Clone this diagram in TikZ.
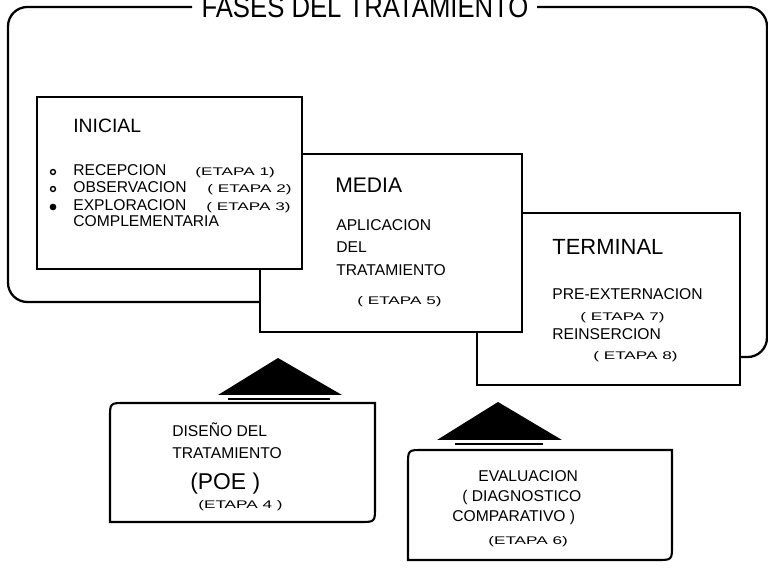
\documentclass[tikz,border=0pt]{standalone}
\usepackage{fontspec}
\setmainfont{Liberation Sans}
\newfontfamily\titlefont[FakeStretch=0.86]{Liberation Sans}
\newfontfamily\etapafont[FakeStretch=1.55]{Liberation Sans}
\tikzset{
  frameline/.style={line width=1.3pt, rounded corners=11pt},
  phasebox/.style={draw, fill=white, line width=1.2pt},
  sidebox/.style={draw, fill=white, line width=1.2pt},
  tipbar/.style={line width=1.1pt},
  titletxt/.style={anchor=base, inner sep=0pt, font=\titlefont\fontsize{17}{20}\selectfont},
  phasetit/.style={anchor=base west, inner sep=0pt, font=\fontsize{#1}{14}\selectfont},
  lbl/.style={anchor=base west, inner sep=0pt, font=\fontsize{8.9}{11}\selectfont},
  etapa/.style={anchor=base west, inner sep=0pt, font=\etapafont\fontsize{6.3}{7}\selectfont},
}

\begin{document}
\begin{tikzpicture}[x=0.02cm, y=-0.02cm]
\useasboundingbox (0,0) rectangle (768,570);

% --- Outer frame ---
\draw[frameline] (192,7) -- (8,7) -- (8,302) -- (262,302);
\draw[frameline] (537,7) -- (767,7) -- (767,357) -- (739,357);
\node[titletxt] (titulo) at (365,18) {FASES DEL TRATAMIENTO};

% --- Phase boxes (back to front) ---
\draw[phasebox] (477,213) rectangle (740,385);
\draw[phasebox] (260,154) rectangle (522,332);
\draw[phasebox] (37,97) rectangle (302,269);

% Inicial
\node[phasetit=11] (inicial) at (73,133) {INICIAL};
\draw[line width=0.8pt] (53,172) circle (1.4pt);
\draw[line width=0.8pt] (53,189) circle (1.4pt);
\fill (53,207) circle (1.9pt);
\node[lbl] (recepcion) at (73,176) {RECEPCION};
\node[lbl] (observacion) at (73,193) {OBSERVACION};
\node[lbl] (exploracion) at (73,211) {EXPLORACION};
\node[lbl] (complem) at (73,227) {COMPLEMENTARIA};
\node[etapa] (etapa1) at (195,176) {(ETAPA 1)};
\node[etapa] (etapa2) at (207,193) {( ETAPA 2)};
\node[etapa] (etapa3) at (206,211) {( ETAPA 3)};

% Media
\node[phasetit=12] (media) at (335,193) {MEDIA};
\node[lbl] (aplicacion) at (336,231) {APLICACION};
\node[lbl] (del) at (336,253) {DEL};
\node[lbl] (tratamiento) at (336,276) {TRATAMIENTO};
\node[etapa] (etapa5) at (357,305) {( ETAPA 5)};

% Terminal
\node[phasetit=12.5] (terminal) at (552,255) {TERMINAL};
\node[lbl] (preext) at (552,300) {PRE-EXTERNACION};
\node[etapa] (etapa7) at (580,321) {( ETAPA 7)};
\node[lbl] (reinsercion) at (552,340) {REINSERCION};
\node[etapa] (etapa8) at (593,360) {( ETAPA 8)};

% --- Diseno del tratamiento ---
\fill (278,358) -- (342,395) -- (218,395) -- cycle;
\draw[tipbar] (228,399) -- (330,399);
\draw[sidebox] (125,403) -- (375,403) -- (375,507) .. controls (375,522) .. (360,522)
  -- (110,522) -- (110,418) .. controls (110,403) .. (125,403) -- cycle;
\node[lbl] (diseno) at (172,437) {DISEÑO DEL};
\node[lbl] (tratam4) at (172,459) {TRATAMIENTO};
\node[phasetit=13] (poe) at (190,490) {(POE )};
\node[etapa] (etapa4) at (198,509) {(ETAPA 4 )};

% --- Evaluacion ---
\fill (498,402) -- (562,440) -- (437,440) -- cycle;
\draw[tipbar] (455,444) -- (543,444);
\draw[sidebox] (423,450) -- (672,450) -- (672,545) .. controls (672,560) .. (657,560)
  -- (408,560) -- (408,465) .. controls (408,450) .. (423,450) -- cycle;
\node[lbl] (evaluacion) at (478,482) {EVALUACION};
\node[lbl] (diagnostico) at (462,502) {( DIAGNOSTICO};
\node[lbl] (comparativo) at (452,522) {COMPARATIVO )};
\node[etapa] (etapa6) at (488,545) {(ETAPA 6)};

\end{tikzpicture}
\end{document}
